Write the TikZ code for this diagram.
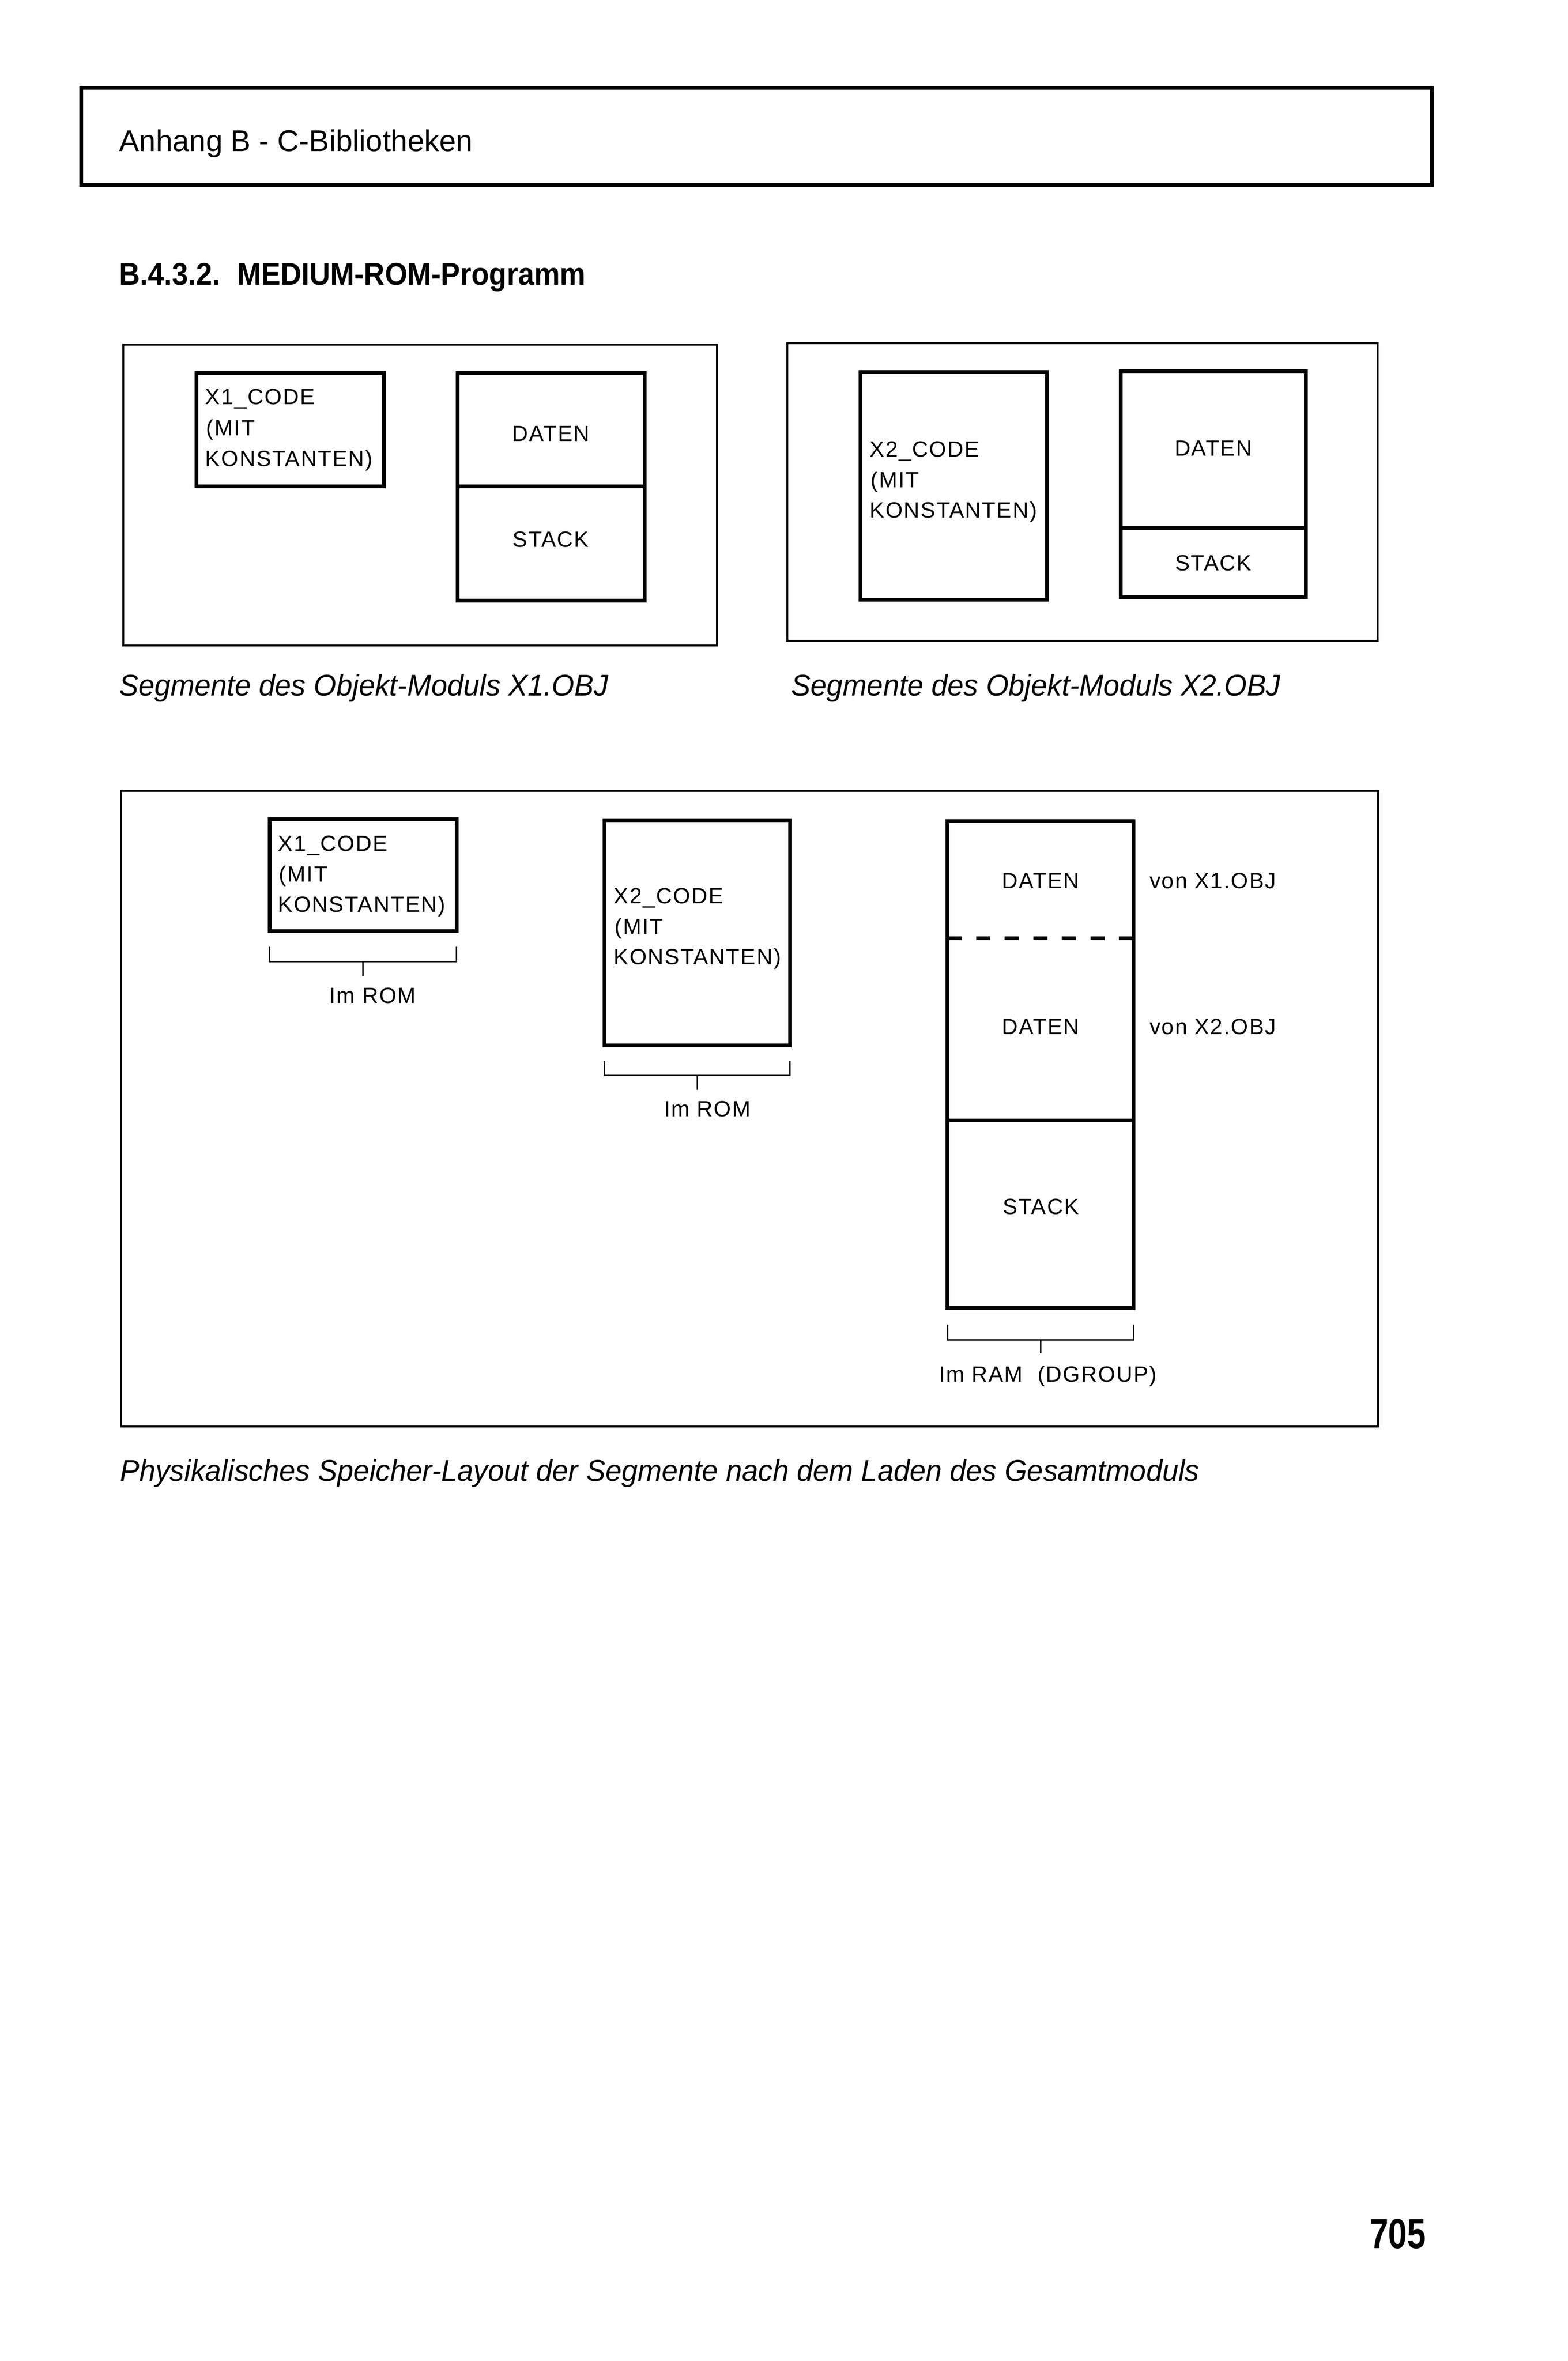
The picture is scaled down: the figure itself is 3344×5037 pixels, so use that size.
\documentclass[tikz,border=0pt]{standalone}
\usepackage{fontspec}
\setmainfont{Liberation Sans}
\newfontfamily\boxfont{Liberation Sans}[LetterSpace=5]
\newfontfamily\capfont{Liberation Sans}[FakeStretch=0.965]
\newfontfamily\headfont{Liberation Sans}
\newfontfamily\titlefont{Liberation Sans}[FakeStretch=0.92]
\newfontfamily\pagefont{Liberation Sans}[FakeStretch=0.8]
\usetikzlibrary{calc}
\tikzset{
  frame/.style={draw, line width=4pt, inner sep=0pt, outer sep=0pt, anchor=north west},
  segbox/.style={draw, line width=8pt, inner sep=0pt, outer sep=0pt, anchor=north west},
  brk/.style={line width=3pt},
  seglab/.style={inner sep=0pt, anchor=base west, font=\boxfont\fontsize{47}{56}\selectfont},
  seglabc/.style={seglab, anchor=base},
  caplab/.style={inner sep=0pt, anchor=base west, font=\capfont\itshape\fontsize{64}{76}\selectfont},
}
\begin{document}
\begin{tikzpicture}[x=1pt,y=-1pt]
\useasboundingbox (0,0) rectangle (3344,5037);

% header
\node[segbox, minimum width=2881pt, minimum height=208pt] (header) at (173,187) {};
\node[inner sep=0pt, anchor=base west, font=\headfont\fontsize{64}{76}\selectfont] (headtxt) at (254,323) {Anhang B - C-Bibliotheken};

% section title
\node[inner sep=0pt, anchor=base west, font=\titlefont\bfseries\fontsize{67}{80}\selectfont] (title) at (254,608) {B.4.3.2.\hspace{36pt}MEDIUM-ROM-Programm};

% ---- module X1.OBJ
\node[frame, minimum width=1266pt, minimum height=642pt] (fr1) at (263,735) {};
\node[segbox, minimum width=400pt, minimum height=242pt] (xa) at (419,796) {};
\node[seglab] (xat1) at (438,863) {X1\_CODE};
\node[seglab] (xat2) at (440,929) {(MIT};
\node[seglab] (xat3) at (438,995) {KONSTANTEN)};
\node[segbox, minimum width=399pt, minimum height=242pt] (da) at (976,796) {};
\node[segbox, minimum width=399pt, minimum height=243pt] (sa) at (976,1038) {};
\node[seglabc] (dat) at (1175,941) {DATEN};
\node[seglabc] (sat) at (1175,1167) {STACK};
\node[caplab] (cap1) at (254,1484) {Segmente des Objekt-Moduls X1.OBJ};

% ---- module X2.OBJ
\node[frame, minimum width=1260pt, minimum height=635pt] (fr2) at (1679,732) {};
\node[segbox, minimum width=398pt, minimum height=485pt] (xb) at (1835,794) {};
\node[seglab] (xbt1) at (1855,975) {X2\_CODE};
\node[seglab] (xbt2) at (1857,1040) {(MIT};
\node[seglab] (xbt3) at (1855,1105) {KONSTANTEN)};
\node[segbox, minimum width=394pt, minimum height=334pt] (db) at (2391,792) {};
\node[segbox, minimum width=394pt, minimum height=148pt] (sb) at (2391,1126) {};
\node[seglabc] (dbt) at (2588,973) {DATEN};
\node[seglabc] (sbt) at (2588,1217) {STACK};
\node[caplab] (cap2) at (1688,1484) {Segmente des Objekt-Moduls X2.OBJ};

% ---- physical layout
\node[frame, minimum width=2682pt, minimum height=1356pt] (fr3) at (258,1687) {};

\node[segbox, minimum width=399pt, minimum height=239pt] (xc) at (575,1748) {};
\node[seglab] (xct1) at (593,1816) {X1\_CODE};
\node[seglab] (xct2) at (595,1881) {(MIT};
\node[seglab] (xct3) at (593,1946) {KONSTANTEN)};
\draw[brk] ([yshift=-33pt]xc.south west) -- ([yshift=-65pt]xc.south west) -- ([yshift=-65pt]xc.south east) -- ([yshift=-33pt]xc.south east);
\draw[brk] ([yshift=-65pt]xc.south) -- ([yshift=-95pt]xc.south);
\node[seglabc] (rom1) at (795,2140) {Im ROM};

\node[segbox, minimum width=396pt, minimum height=480pt] (xd) at (1289,1750) {};
\node[seglab] (xdt1) at (1309,1928) {X2\_CODE};
\node[seglab] (xdt2) at (1311,1993) {(MIT};
\node[seglab] (xdt3) at (1309,2058) {KONSTANTEN)};
\draw[brk] ([yshift=-34pt]xd.south west) -- ([yshift=-64pt]xd.south west) -- ([yshift=-64pt]xd.south east) -- ([yshift=-34pt]xd.south east);
\draw[brk] ([yshift=-64pt]xd.south) -- ([yshift=-95pt]xd.south);
\node[seglabc] (rom2) at (1509,2382) {Im ROM};

\node[segbox, minimum width=397pt, minimum height=1038pt] (ram) at (2021,1752) {};
\draw[line width=8pt, dash pattern=on 30pt off 31pt] (2021,2002) -- (2418,2002);
\draw[line width=8pt] (2021,2390) -- (2418,2390);
\node[seglabc] (rd1) at (2220,1895) {DATEN};
\node[seglabc] (rd2) at (2220,2207) {DATEN};
\node[seglabc] (rst) at (2220,2590) {STACK};
\node[seglab] (von1) at (2452,1895) {von X1.OBJ};
\node[seglab] (von2) at (2452,2207) {von X2.OBJ};
\draw[brk] ([yshift=-36pt]ram.south west) -- ([yshift=-68pt]ram.south west) -- ([yshift=-68pt]ram.south east) -- ([yshift=-36pt]ram.south east);
\draw[brk] ([yshift=-68pt]ram.south) -- ([yshift=-97pt]ram.south);
\node[seglabc] (ramt) at (2235,2948) {Im RAM\hspace{16pt} (DGROUP)};

\node[caplab] (cap3) at (256,3160) {Physikalisches Speicher-Layout der Segmente nach dem Laden des Gesamtmoduls};

% page number
\node[inner sep=0pt, anchor=base east, font=\pagefont\bfseries\fontsize{90}{100}\selectfont] (pageno) at (3042,4797) {705};
\end{tikzpicture}
\end{document}
